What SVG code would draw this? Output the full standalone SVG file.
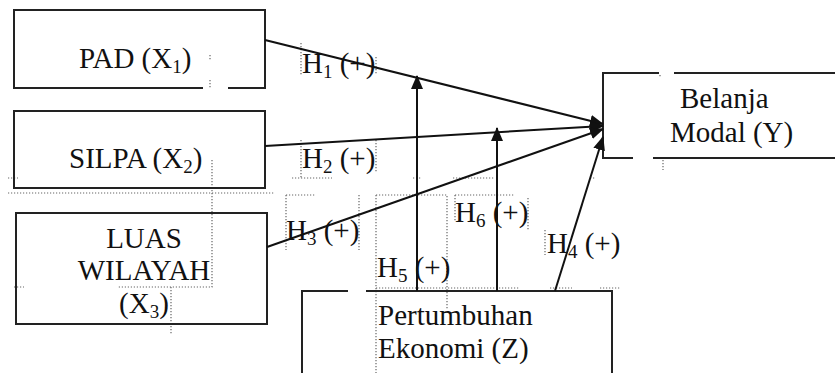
<svg xmlns="http://www.w3.org/2000/svg" width="835" height="373" viewBox="0 0 835 373">
<style>
.box{fill:none;stroke:#222;stroke-width:2}
.t{font-family:"Liberation Serif","Times New Roman",serif;font-size:29px;fill:#111}
.s{font-size:19px}
.c{fill:none;stroke:#111;stroke-width:2}
.d{fill:none;stroke:#666;stroke-width:1.2;stroke-dasharray:1.2 1.8}
</style>
<defs>
<marker id="ah" markerUnits="userSpaceOnUse" markerWidth="14" markerHeight="12" refX="13" refY="6" orient="auto">
<path d="M0,0 L14,6 L0,12 Z" fill="#111"/>
</marker>
</defs>
<rect width="835" height="373" fill="#fff"/>
<g id="artifacts">
<path class="d" d="M8,193 H275"/>
<path class="d" d="M212,160 V287 H118"/>
<path class="d" d="M171,287 V334"/>
<path class="d" d="M14,287 H24 M8,178 H18"/>
<path class="d" d="M301,43 V75 M376,57 V75"/>
<path class="d" d="M301,140 V178 M376,140 V172 M292,178 H332 M413,178 H422 M453,178 H494"/>
<path class="d" d="M286,195 H315 M286,195 V250 M359,195 V250"/>
<path class="d" d="M376,195 H447 V310 M376,195 V373 M376,288 H520 M550,288 H572 M600,288 H620"/>
<path class="d" d="M455,195 H515 M455,195 V222 M528,198 V230"/>
<path class="d" d="M545,230 V255 M590,178 H596"/>
<path class="d" d="M660,75 V78 M663,160 V170 M210,55 V60 M210,80 V88"/>
</g>
<g id="pad">
<path class="box" d="M203,88 H14 V10 H265 V88 H228"/>
<text class="t" x="79" y="68">PAD (X<tspan class="s" dy="5">1</tspan><tspan dy="-5">)</tspan></text>
</g>
<g id="silpa">
<rect class="box" x="14" y="111" width="251" height="77"/>
<text class="t" x="69" y="168">SILPA (X<tspan class="s" dy="5">2</tspan><tspan dy="-5">)</tspan></text>
</g>
<g id="luas">
<rect class="box" x="16" y="213" width="251" height="111"/>
<text class="t" x="144" y="248" text-anchor="middle">LUAS</text>
<text class="t" x="144" y="280" text-anchor="middle">WILAYAH</text>
<text class="t" x="144" y="313" text-anchor="middle">(X<tspan class="s" dy="5">3</tspan><tspan dy="-5">)</tspan></text>
</g>
<g id="belanja">
<path class="box" d="M659,73 H603 V158 H633 M653,158 H835 M674,73 H835"/>
<text class="t" x="680" y="108">Belanja</text>
<text class="t" x="670" y="142">Modal (Y)</text>
</g>
<g id="pertumbuhan">
<path class="box" d="M348,291 H302 V373 M366,291 H612 V373"/>
<text class="t" x="378" y="325">Pertumbuhan</text>
<text class="t" x="378" y="358">Ekonomi (Z)</text>
</g>
<g id="connectors">
<path class="c" d="M265,40 L603,124" marker-end="url(#ah)"/>
<path class="c" d="M265,146 L603,126" marker-end="url(#ah)"/>
<path class="c" d="M267,247 L603,129" marker-end="url(#ah)"/>
<path class="c" d="M555,291 L603,137" marker-end="url(#ah)"/>
<path class="c" d="M417,291 L417,76" marker-end="url(#ah)"/>
<path class="c" d="M497,291 L497,128" marker-end="url(#ah)"/>
</g>
<g id="labels">
<text class="t" x="302" y="73">H<tspan class="s" dy="5">1</tspan><tspan dy="-5"> (+)</tspan></text>
<text class="t" x="302" y="168">H<tspan class="s" dy="5">2</tspan><tspan dy="-5"> (+)</tspan></text>
<text class="t" x="286" y="240">H<tspan class="s" dy="5">3</tspan><tspan dy="-5"> (+)</tspan></text>
<text class="t" x="547" y="253">H<tspan class="s" dy="5">4</tspan><tspan dy="-5"> (+)</tspan></text>
<text class="t" x="377" y="277">H<tspan class="s" dy="5">5</tspan><tspan dy="-5"> (+)</tspan></text>
<text class="t" x="455" y="222">H<tspan class="s" dy="5">6</tspan><tspan dy="-5"> (+)</tspan></text>
</g>
</svg>
